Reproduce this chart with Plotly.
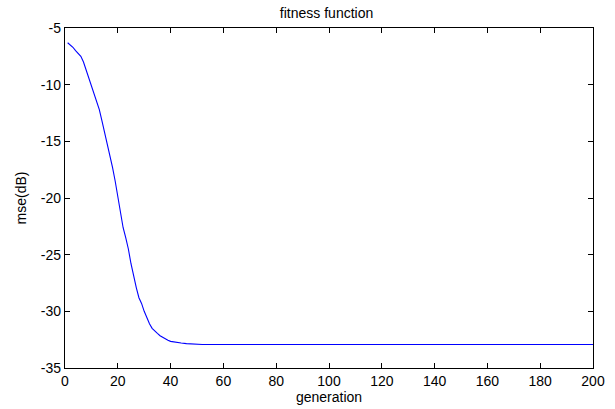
import plotly.graph_objects as go

generation = [1, 2, 3, 4, 5, 6, 7, 8, 9, 10, 11, 12, 13, 14, 15, 16, 17, 18, 19, 20,
              21, 22, 23, 24, 25, 26, 27, 28, 29, 30, 31, 32, 33, 34, 35, 36, 37, 38,
              39, 40, 42, 44, 46, 48, 50, 52, 60, 80, 100, 120, 140, 160, 180, 200]
mse_db = [-6.3, -6.5, -6.7, -7.0, -7.3, -7.5, -8.0, -8.7, -9.3, -10.1, -10.8, -11.3,
          -12.2, -13.2, -14.2, -15.3, -16.4, -17.3, -18.5, -19.9, -21.3, -22.6, -23.5,
          -24.5, -25.8, -27.0, -27.9, -28.8, -29.3, -30.0, -30.6, -31.1, -31.5, -31.75,
          -31.95, -32.15, -32.3, -32.45, -32.55, -32.65, -32.75, -32.8, -32.85, -32.87,
          -32.88, -32.92, -32.92, -32.92, -32.92, -32.92, -32.92, -32.92, -32.92, -32.92]

x_ticks = list(range(0, 201, 20))
x_labels = [str(v) for v in x_ticks]
y_ticks = [-35, -30, -25, -20, -15, -10, -5]
y_labels = ["-35", "-30", "-25", "-20", "-15", "-10", "-5"]

FONT = "Liberation Sans, Arial, sans-serif"

fig = go.Figure()
fig.add_trace(go.Scatter(x=generation, y=mse_db, mode="lines",
                         line=dict(color="#0000ff", width=1.1), showlegend=False))

axis_common = dict(showline=True, linecolor="black", linewidth=1.3, mirror="ticks",
                   ticks="inside", ticklen=5, tickcolor="black", tickwidth=1,
                   showgrid=False, zeroline=False, automargin=False,
                   tickfont=dict(family=FONT, size=14, color="black"))

fig.update_layout(
    width=615, height=409,
    margin=dict(l=65, r=22, t=28, b=41),
    paper_bgcolor="white", plot_bgcolor="white",
    title=dict(text="fitness function", x=0.531, xanchor="center", y=0.968, yanchor="middle",
               font=dict(family=FONT, size=14, color="black")),
    xaxis=dict(range=[0, 200], tickvals=x_ticks, ticktext=x_labels,
               title=dict(text="generation", standoff=3,
                          font=dict(family=FONT, size=14, color="black")),
               **axis_common),
    yaxis=dict(range=[-35, -5], tickvals=y_ticks, ticktext=y_labels,
               title=dict(text="mse(dB)", standoff=10,
                          font=dict(family=FONT, size=14, color="black")),
               **axis_common),
)

fig.write_html("out.html")
